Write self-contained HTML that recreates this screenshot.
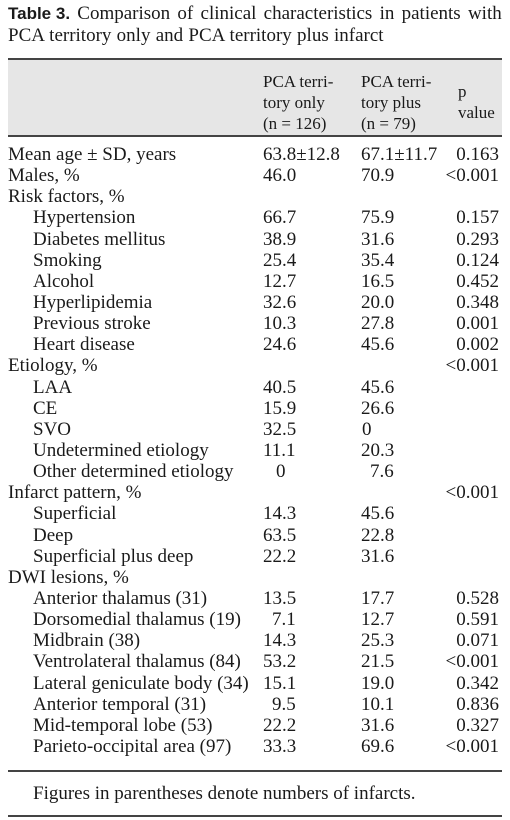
<!DOCTYPE html>
<html><head><meta charset="utf-8"><style>
body{margin:0;width:510px;height:820px;background:#fff;position:relative;overflow:hidden;font-family:"Liberation Serif",serif;color:#1a1a1a;font-size:19px}
.a{position:absolute;white-space:nowrap;line-height:20px}
.r{text-align:right}
.h{font-size:17px}
.line{position:absolute;left:8px;width:494px;background:#444}
</style></head><body>
<div class="a" style="left:8px;top:4px;word-spacing:2.5px"><b style="font-family:'Liberation Sans',sans-serif;font-size:17px;word-spacing:0">Table 3.</b> Comparison of clinical characteristics in patients with</div>
<div class="a" style="left:8px;top:26px;word-spacing:0.5px">PCA territory only and PCA territory plus infarct</div>
<div style="position:absolute;left:8px;top:58px;width:494px;height:78px;background:#e6e6e6"></div>
<div class="line" style="top:58px;height:1.5px"></div>
<div class="line" style="top:135px;height:2px"></div>
<div class="a h" style="left:263px;top:71px;line-height:21px">PCA terri-<br>tory only<br>(n = 126)</div>
<div class="a h" style="left:361px;top:71px;line-height:21px">PCA terri-<br>tory plus<br>(n = 79)</div>
<div class="a h" style="left:458px;top:81px;line-height:21px">p<br>value</div>
<div id="rows"></div>
<div class="line" style="top:770px;height:1.5px"></div>
<div class="a" style="left:33px;top:784px">Figures in parentheses denote numbers of infarcts.</div>
<div class="line" style="top:815px;height:1.5px"></div>
<script>
const labels=["Mean age \u00b1  SD, years","Males, %","Risk factors, %","Hypertension","Diabetes mellitus","Smoking","Alcohol","Hyperlipidemia","Previous stroke","Heart disease","Etiology, %","LAA","CE","SVO","Undetermined etiology","Other determined etiology","Infarct pattern, %","Superficial","Deep","Superficial plus deep","DWI lesions, %","Anterior thalamus (31)","Dorsomedial thalamus (19)","Midbrain (38)","Ventrolateral thalamus (84)","Lateral geniculate body (34)","Anterior temporal (31)","Mid-temporal lobe (53)","Parieto-occipital area (97)"];
const indent=[0,0,0,1,1,1,1,1,1,1,0,1,1,1,1,1,0,1,1,1,0,1,1,1,1,1,1,1,1];
const onlyVals=["63.8\u00b112.8","46.0","","66.7","38.9","25.4","12.7","32.6","10.3","24.6","","40.5","15.9","32.5","11.1","0","","14.3","63.5","22.2","","13.5","7.1","14.3","53.2","15.1","9.5","22.2","33.3"];
const plusVals=["67.1\u00b111.7","70.9","","75.9","31.6","35.4","16.5","20.0","27.8","45.6","","45.6","26.6","0","20.3","7.6","","45.6","22.8","31.6","","17.7","12.7","25.3","21.5","19.0","10.1","31.6","69.6"];
const pVals=["0.163","<0.001","","0.157","0.293","0.124","0.452","0.348","0.001","0.002","<0.001","","","","","","<0.001","","","","","0.528","0.591","0.071","<0.001","0.342","0.836","0.327","<0.001"];
const host=document.getElementById('rows');
function off(v,col){if(v==="0")return col===1?13:1;if(v.length===3)return 9;return 0;}
labels.forEach((lab,i)=>{
  const top=145+i*21.14;
  const l=document.createElement('div');l.className='a';
  l.style.left=(indent[i]?33:8)+'px';l.style.top=top+'px';l.textContent=lab;
  
  
  host.appendChild(l);
  [[onlyVals[i],263,1],[plusVals[i],361,2]].forEach(([v,x,c])=>{
    if(!v)return;
    const d=document.createElement('div');d.className='a';
    d.style.left=(x+off(v,c))+'px';d.style.top=top+'px';d.textContent=v;
    
    
    host.appendChild(d);
  });
  if(pVals[i]){
    const p=document.createElement('div');p.className='a r';
    p.style.right='11px';p.style.top=top+'px';p.textContent=pVals[i];
    
    
    host.appendChild(p);
  }
});
</script>
</body></html>
